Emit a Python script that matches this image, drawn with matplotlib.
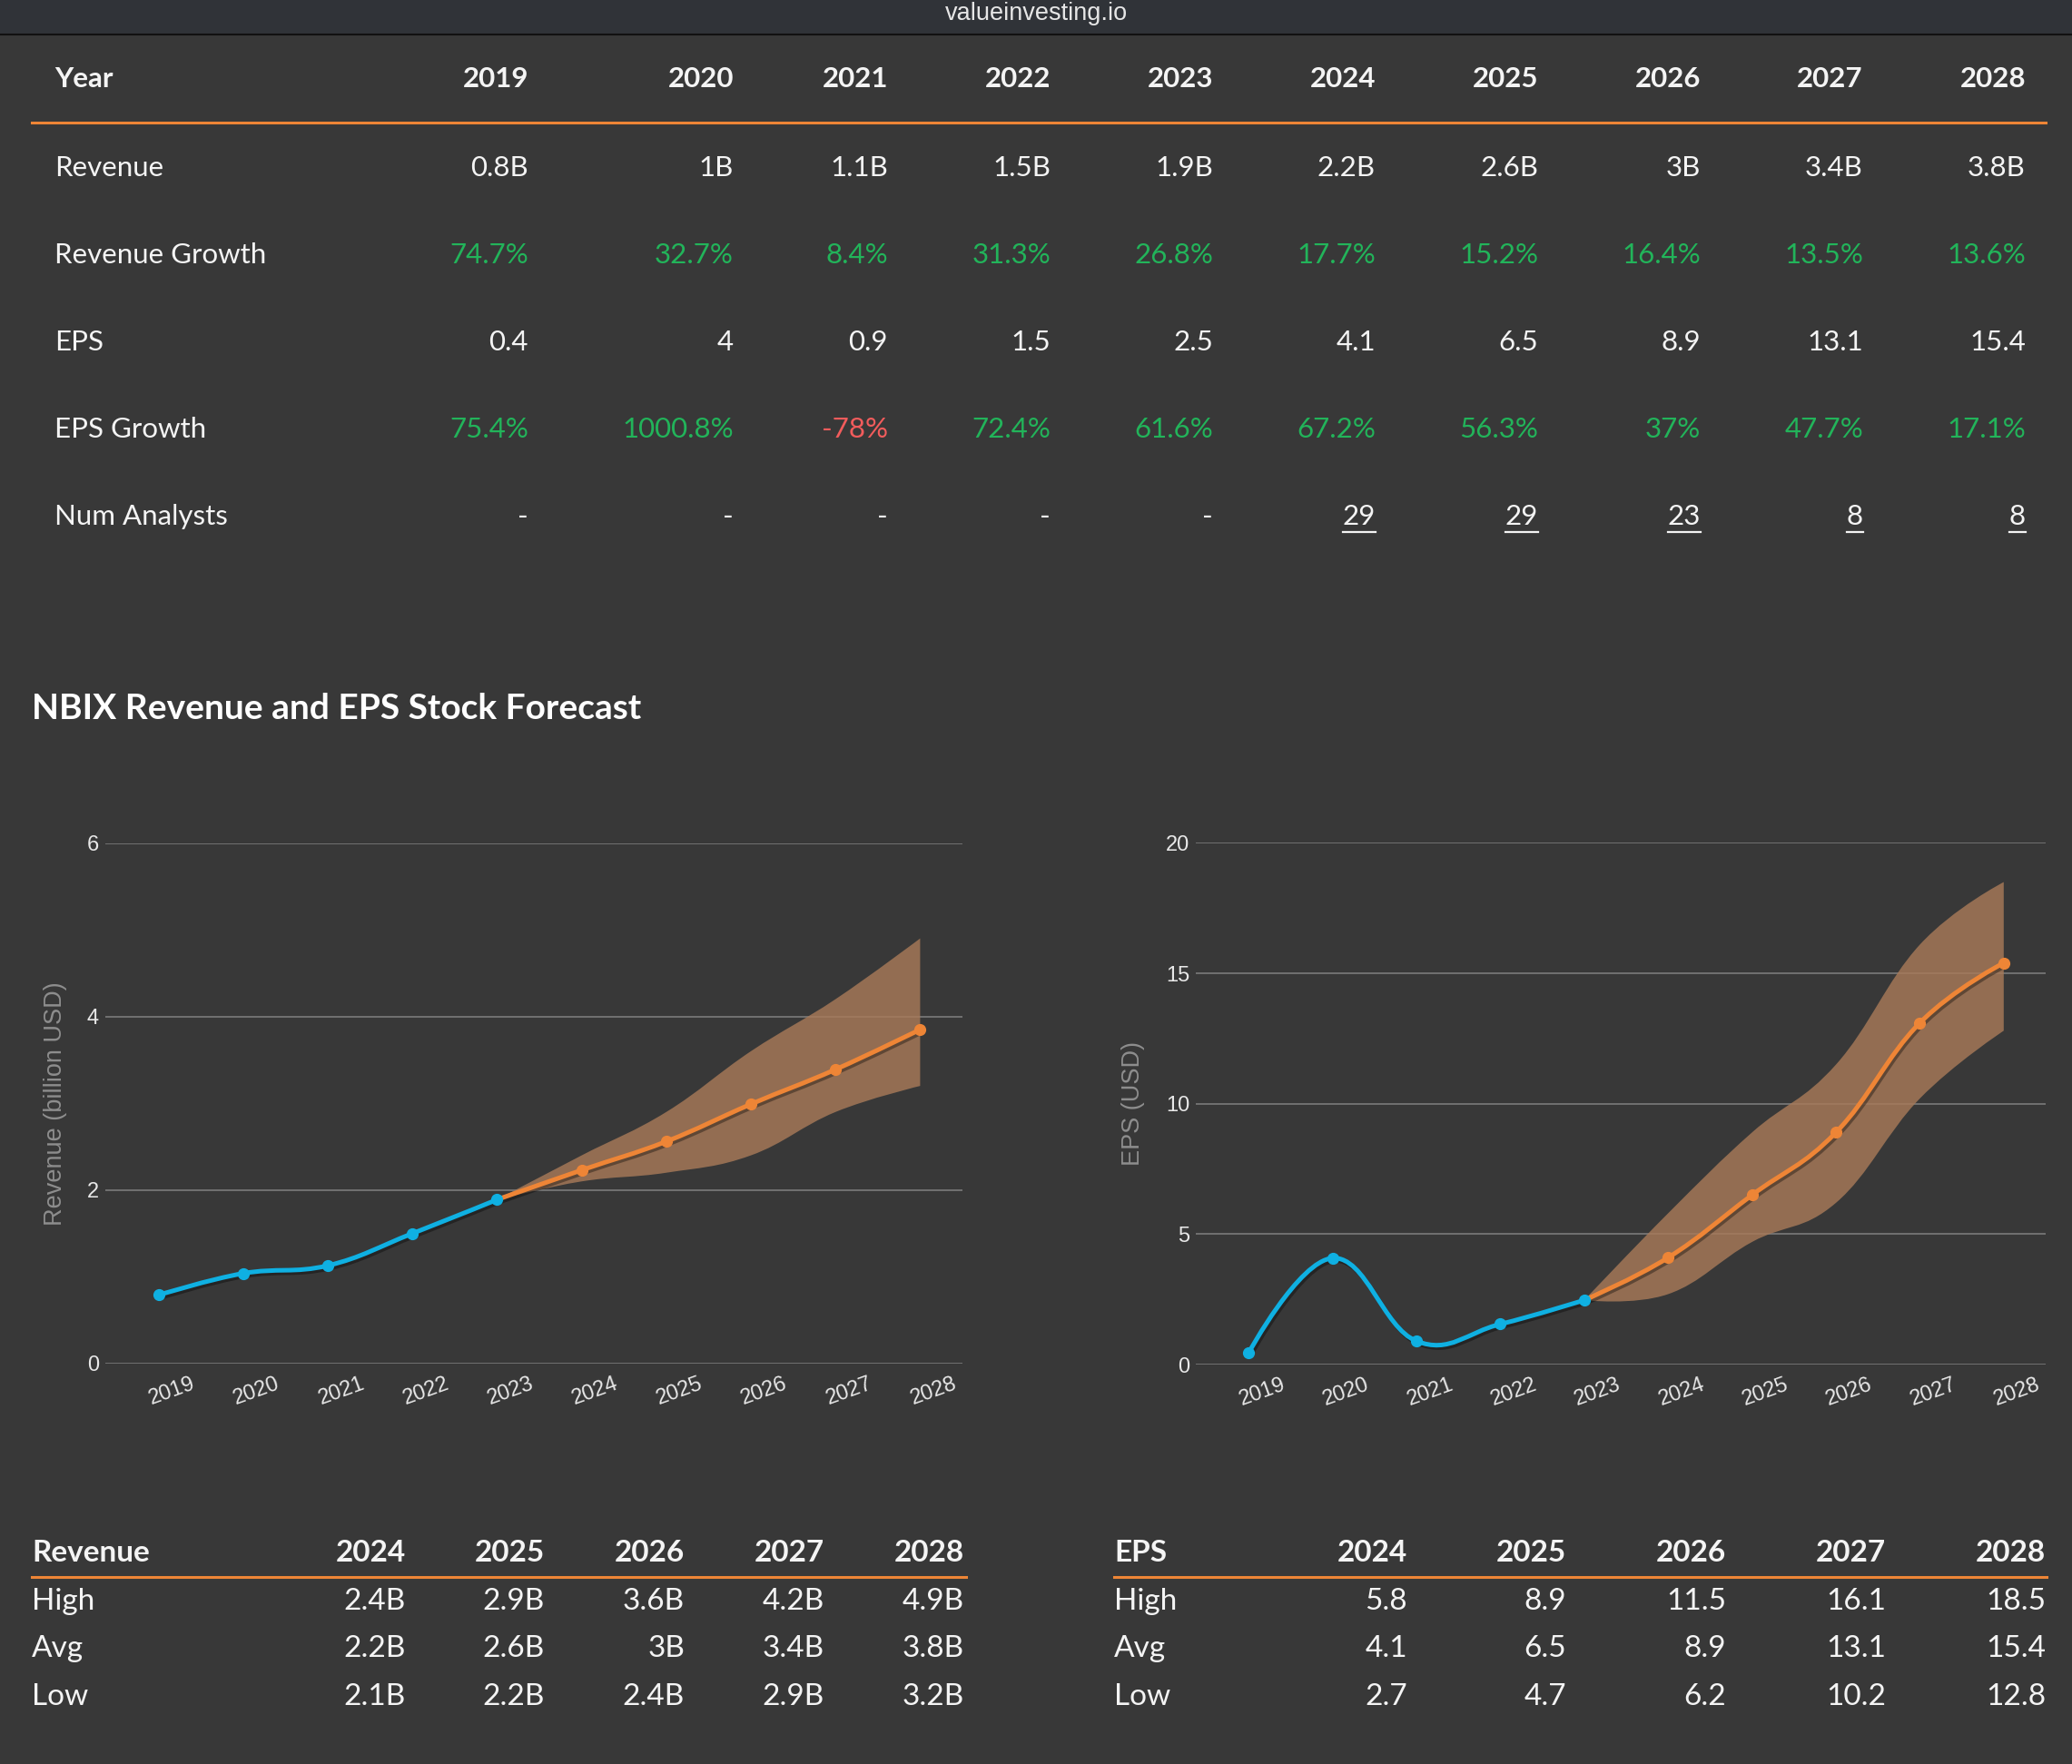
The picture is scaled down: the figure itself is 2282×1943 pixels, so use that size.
import numpy as np
import matplotlib.pyplot as plt
from matplotlib.path import Path
from matplotlib.patches import PathPatch, Rectangle
from matplotlib.lines import Line2D
from matplotlib.transforms import ScaledTranslation
import matplotlib.patheffects as pe

W, H = 2282, 1943
BG = "#383838"
ORANGE = "#ee8536"
BLUE = "#0fb0e2"
GREEN = "#22b45a"
RED = "#f25c5c"
TEXT = "#f4f4f4"

# top summary table
years = ["2019", "2020", "2021", "2022", "2023", "2024", "2025", "2026", "2027", "2028"]
revenueCells = ["0.8B", "1B", "1.1B", "1.5B", "1.9B", "2.2B", "2.6B", "3B", "3.4B", "3.8B"]
revenueGrowth = ["74.7%", "32.7%", "8.4%", "31.3%", "26.8%", "17.7%", "15.2%", "16.4%", "13.5%", "13.6%"]
epsCells = ["0.4", "4", "0.9", "1.5", "2.5", "4.1", "6.5", "8.9", "13.1", "15.4"]
epsGrowth = ["75.4%", "1000.8%", "-78%", "72.4%", "61.6%", "67.2%", "56.3%", "37%", "47.7%", "17.1%"]
numAnalysts = ["-", "-", "-", "-", "-", "29", "29", "23", "8", "8"]

# chart series
revenue = [0.79, 1.04, 1.13, 1.50, 1.89, 2.23, 2.56, 2.99, 3.39, 3.85]
revenueHigh = [2.4, 2.9, 3.6, 4.2, 4.9]
revenueLow = [2.1, 2.2, 2.4, 2.9, 3.2]
eps = [0.45, 4.08, 0.9, 1.55, 2.47, 4.1, 6.5, 8.9, 13.1, 15.4]
epsHigh = [5.8, 8.9, 11.5, 16.1, 18.5]
epsLow = [2.7, 4.7, 6.2, 10.2, 12.8]

# bottom forecast tables
forecastYears = ["2024", "2025", "2026", "2027", "2028"]
revHighCells = ["2.4B", "2.9B", "3.6B", "4.2B", "4.9B"]
revAvgCells = ["2.2B", "2.6B", "3B", "3.4B", "3.8B"]
revLowCells = ["2.1B", "2.2B", "2.4B", "2.9B", "3.2B"]
epsHighCells = ["5.8", "8.9", "11.5", "16.1", "18.5"]
epsAvgCells = ["4.1", "6.5", "8.9", "13.1", "15.4"]
epsLowCells = ["2.7", "4.7", "6.2", "10.2", "12.8"]

TABLE_FONT = ["Lato", "DejaVu Sans"]
CHART_FONT = ["Liberation Sans", "DejaVu Sans"]
TS = 22.5  # top table font size
BS = 24    # bottom tables font size


def fx(x):
    return x / W


def fy(y):
    return 1 - y / H


#Highcharts style spline: bezier control points from neighbours
def splinePath(xs, ys, smoothing=1.5):
    n = len(xs)
    left = [(xs[i], ys[i]) for i in range(n)]
    right = [(xs[i], ys[i]) for i in range(n)]
    denom = smoothing + 1
    for i in range(1, n - 1):
        lx = (smoothing * xs[i] + xs[i - 1]) / denom
        ly = (smoothing * ys[i] + ys[i - 1]) / denom
        rx = (smoothing * xs[i] + xs[i + 1]) / denom
        ry = (smoothing * ys[i] + ys[i + 1]) / denom
        corr = (ry - ly) * (rx - xs[i]) / (rx - lx) + ys[i] - ry
        left[i] = (lx, ly + corr)
        right[i] = (rx, ry + corr)
    verts = [(xs[0], ys[0])]
    codes = [Path.MOVETO]
    for i in range(n - 1):
        verts += [right[i], left[i + 1], (xs[i + 1], ys[i + 1])]
        codes += [Path.CURVE4] * 3
    return verts, codes


def drawChart(ax, values, high, low, ylim, yticks, ylabel, labelX):
    ax.set_facecolor(BG)
    x = np.arange(len(values))
    shadow = [pe.SimpleLineShadow(offset=(1.5, -2), shadow_color="black", alpha=0.35), pe.Normal()]

    # forecast band
    fxs = list(x[4:])
    upV, upC = splinePath(fxs, [values[4]] + high)
    loV, loC = splinePath(fxs, [values[4]] + low)
    bandV = upV + [loV[-1]] + loV[::-1][1:] + [upV[0]]
    bandC = upC + [Path.LINETO] + [Path.CURVE4] * (len(loV) - 1) + [Path.CLOSEPOLY]
    ax.add_patch(PathPatch(Path(bandV, bandC), facecolor="#a87a58", edgecolor="none",
                           alpha=0.82, zorder=2))

    hv, hc = splinePath(list(x[:5]), values[:5])
    ax.add_patch(PathPatch(Path(hv, hc), fill=False, edgecolor=BLUE, lw=3.6,
                           capstyle="round", path_effects=shadow, zorder=3))
    fv, fc = splinePath(fxs, values[4:])
    ax.add_patch(PathPatch(Path(fv, fc), fill=False, edgecolor=ORANGE, lw=3.6,
                           capstyle="round", path_effects=shadow, zorder=3))
    ax.plot(x[:5], values[:5], "o", color=BLUE, ms=8.5, zorder=4)
    ax.plot(x[5:], values[5:], "o", color=ORANGE, ms=8.5, zorder=4)

    ax.set_xlim(-0.63, 9.5)
    ax.set_ylim(*ylim)
    ax.set_yticks(yticks)
    ax.grid(axis="y", color="#767676", lw=1.3, zorder=1)
    ax.set_axisbelow(True)
    for s in ax.spines.values():
        s.set_visible(False)
    ax.tick_params(axis="both", length=0, labelcolor="#e8e8e8", labelsize=17)
    ax.tick_params(axis="y", pad=5)
    ax.tick_params(axis="x", pad=8)
    ax.set_xticks(x)
    ax.set_xticklabels(years, rotation=20, ha="center", fontfamily=CHART_FONT)
    for lbl in ax.get_yticklabels():
        lbl.set_fontfamily(CHART_FONT)
    for lbl in ax.get_xticklabels():
        lbl.set_transform(lbl.get_transform() + ScaledTranslation(0.15, 0, ax.figure.dpi_scale_trans))
    ax.set_ylabel(ylabel, color="#8e8e8e", fontsize=19.5, fontfamily=CHART_FONT)
    ax.yaxis.set_label_coords(labelX, 0.5)


fig = plt.figure(figsize=(W / 100, H / 100), dpi=100, facecolor=BG)

# top bar
fig.patches.append(Rectangle((0, fy(38)), 1, 38 / H, transform=fig.transFigure,
                             facecolor="#303338", edgecolor="none", zorder=0))
fig.add_artist(Line2D([0, 1], [fy(38), fy(38)], color="#111111", lw=1.5))
fig.text(0.5, fy(15), "valueinvesting.io", ha="center", va="center", color="#e6e6e6",
         fontsize=19.5, fontfamily=CHART_FONT)

# summary table
colRight = [582, 808, 978, 1157, 1336, 1515, 1694, 1873, 2052, 2231]
rowY = [185, 281, 377, 473, 569]
fig.text(fx(60), fy(87), "Year", ha="left", va="center", color=TEXT, fontsize=TS,
         fontweight="bold", fontfamily=TABLE_FONT)
for xr, yr in zip(colRight, years):
    fig.text(fx(xr), fy(87), yr, ha="right", va="center", color=TEXT, fontsize=TS,
             fontweight="bold", fontfamily=TABLE_FONT)
fig.add_artist(Line2D([fx(35), fx(2253)], [fy(135), fy(135)], color=ORANGE, lw=2.2))

rows = [("Revenue", revenueCells), ("Revenue Growth", revenueGrowth), ("EPS", epsCells),
        ("EPS Growth", epsGrowth), ("Num Analysts", numAnalysts)]
analystTexts = []
for (name, cells), yr in zip(rows, rowY):
    fig.text(fx(60), fy(yr), name, ha="left", va="center", color=TEXT, fontsize=TS,
             fontfamily=TABLE_FONT)
    for xr, c in zip(colRight, cells):
        col = TEXT
        if "Growth" in name:
            col = RED if c.startswith("-") else GREEN
        t = fig.text(fx(xr), fy(yr), c, ha="right", va="center", color=col, fontsize=TS,
                     fontfamily=TABLE_FONT)
        if name == "Num Analysts" and c != "-":
            analystTexts.append(t)

# chart title
fig.text(fx(35), fy(781), "NBIX Revenue and EPS Stock Forecast", ha="left", va="center",
         color="white", fontsize=28, fontweight="bold", fontfamily=TABLE_FONT)

ax1 = fig.add_axes([fx(116), fy(1502), (1060 - 116) / W, (1502 - 928.5) / H])
drawChart(ax1, revenue, revenueHigh, revenueLow, (0, 6), [0, 2, 4, 6],
          "Revenue (billion USD)", -0.0445)
ax2 = fig.add_axes([fx(1317), fy(1503), (2253 - 1317) / W, (1503 - 928.5) / H])
drawChart(ax2, eps, epsHigh, epsLow, (0, 20), [0, 5, 10, 15, 20], "EPS (USD)", -0.060)


def bottomTable(title, x0, x1, cols, cells):
    fig.text(fx(x0), fy(1710), title, ha="left", va="center", color=TEXT, fontsize=BS,
             fontweight="bold", fontfamily=TABLE_FONT)
    for xr, yr in zip(cols, forecastYears):
        fig.text(fx(xr), fy(1710), yr, ha="right", va="center", color=TEXT, fontsize=BS,
                 fontweight="bold", fontfamily=TABLE_FONT)
    fig.add_artist(Line2D([fx(x0), fx(x1)], [fy(1737), fy(1737)], color=ORANGE, lw=2.2))
    for (name, vals), yr in zip(cells, [1764, 1816, 1869]):
        fig.text(fx(x0), fy(yr), name, ha="left", va="center", color=TEXT, fontsize=BS,
                 fontfamily=TABLE_FONT)
        for xr, v in zip(cols, vals):
            fig.text(fx(xr), fy(yr), v, ha="right", va="center", color=TEXT, fontsize=BS,
                     fontfamily=TABLE_FONT)


bottomTable("Revenue", 35, 1064, [447, 600, 754, 908, 1062],
            [("High", revHighCells), ("Avg", revAvgCells), ("Low", revLowCells)])
bottomTable("EPS", 1227, 2254, [1550, 1725, 1901, 2077, 2253],
            [("High", epsHighCells), ("Avg", epsAvgCells), ("Low", epsLowCells)])

# underline analyst counts
fig.canvas.draw()
inv = fig.transFigure.inverted()
for t in analystTexts:
    bb = t.get_window_extent()
    (x0, y0), (x1, _) = inv.transform([(bb.x0, bb.y0), (bb.x1, bb.y1)])
    fig.add_artist(Line2D([x0, x1], [y0 - 3 / H, y0 - 3 / H], color=TEXT, lw=1.6))

fig.savefig("out.png", dpi=100, facecolor=BG)
